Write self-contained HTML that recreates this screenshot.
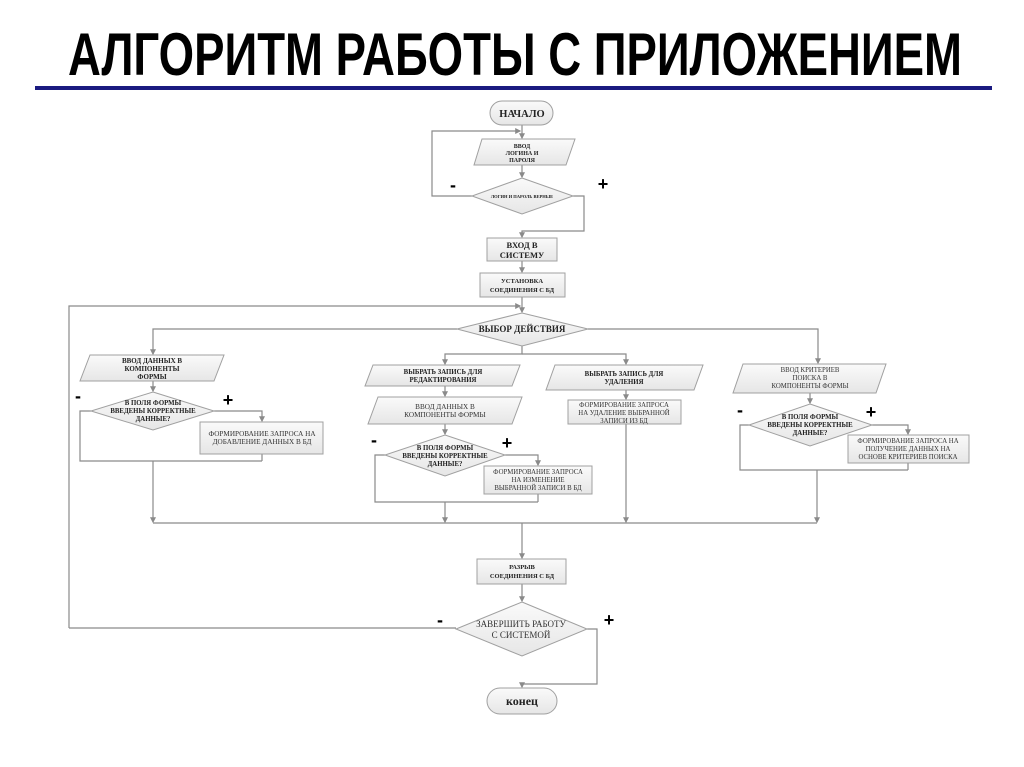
<!DOCTYPE html>
<html><head><meta charset="utf-8"><style>
html,body{margin:0;padding:0;background:#fff;}
svg{display:block;}
.t{font-family:"Liberation Serif",serif;font-weight:bold;fill:#222;text-anchor:middle;}
.n{font-family:"Liberation Serif",serif;fill:#333;text-anchor:middle;}
.s{fill:url(#g);stroke:#a0a0a0;stroke-width:1;}
.l{stroke:#8a8a8a;stroke-width:1.2;fill:none;}
.pm{font-family:"Liberation Sans",sans-serif;font-weight:bold;fill:#000;text-anchor:middle;}
</style></head><body>
<svg width="1024" height="767" viewBox="0 0 1024 767">
<defs>
<linearGradient id="g" x1="0" y1="0" x2="0" y2="1"><stop offset="0" stop-color="#fafafa"/><stop offset="1" stop-color="#e6e6e6"/></linearGradient>
<marker id="a" markerWidth="5" markerHeight="5" refX="4" refY="2.5" orient="auto"><path d="M0,0 L5,2.5 L0,5z" fill="#8a8a8a"/></marker>
</defs>
<text x="515" y="75" font-family="'Liberation Sans Narrow','Liberation Sans',sans-serif" font-weight="bold" font-size="60" text-anchor="middle" textLength="894" lengthAdjust="spacingAndGlyphs">АЛГОРИТМ РАБОТЫ С ПРИЛОЖЕНИЕМ</text>
<rect x="35" y="86" width="957" height="4" fill="#1a1a80"/>

<g class="l">
<path d="M522,125 V138" marker-end="url(#a)"/>
<path d="M472,196 H432 V131 H520" marker-end="url(#a)"/>
<path d="M522,165 V177" marker-end="url(#a)"/>
<path d="M573,196 H584 V231 H522 V237" marker-end="url(#a)"/>
<path d="M522,261 V272" marker-end="url(#a)"/>
<path d="M522,297 V312" marker-end="url(#a)"/>
<path d="M69,628 V306 H520" marker-end="url(#a)"/>
<path d="M457,329 H153 V354" marker-end="url(#a)"/>
<path d="M588,329 H818 V363" marker-end="url(#a)"/>
<path d="M522,346 V354 H445 V364" marker-end="url(#a)"/>
<path d="M522,354 H626 V364" marker-end="url(#a)"/>
<path d="M153,381 V391" marker-end="url(#a)"/>
<path d="M91,411 H80 V461 H262"/>
<path d="M214,411 H262 V421" marker-end="url(#a)"/>
<path d="M262,454 V461"/>
<path d="M153,461 V522" marker-end="url(#a)"/>
<path d="M445,386 V396" marker-end="url(#a)"/>
<path d="M445,424 V434" marker-end="url(#a)"/>
<path d="M385,455 H375 V502 H538"/>
<path d="M505,455 H538 V465" marker-end="url(#a)"/>
<path d="M538,494 V502"/>
<path d="M445,502 V522" marker-end="url(#a)"/>
<path d="M626,390 V399" marker-end="url(#a)"/>
<path d="M626,424 V522" marker-end="url(#a)"/>
<path d="M810,393 V403" marker-end="url(#a)"/>
<path d="M749,425 H740 V470 H908"/>
<path d="M872,425 H908 V434" marker-end="url(#a)"/>
<path d="M908,463 V470"/>
<path d="M817,470 V522" marker-end="url(#a)"/>
<path d="M153,523 H817"/>
<path d="M522,523 V558" marker-end="url(#a)"/>
<path d="M522,584 V601" marker-end="url(#a)"/>
<path d="M456,628 H69"/>
<path d="M587,629 H597 V684 H522 V687" marker-end="url(#a)"/>
</g>

<rect class="s" x="490" y="101" width="63" height="24" rx="12"/>
<text class="t" x="522" y="117" font-size="10.5">НАЧАЛО</text>
<polygon class="s" points="482,139 575,139 566,165 474,165"/>
<text class="t" x="522" y="148" font-size="6">ВВОД</text><text class="t" x="522" y="155" font-size="6">ЛОГИНА И</text><text class="t" x="522" y="162" font-size="6">ПАРОЛЯ</text>
<polygon class="s" points="522,178 573,196 522,214 472,196"/>
<text class="t" x="522" y="198" font-size="4.5">ЛОГИН И ПАРОЛЬ ВЕРНЫЕ</text>
<text class="pm" x="453" y="191" font-size="18">-</text><text class="pm" x="603" y="190" font-size="18">+</text>
<rect class="s" x="487" y="238" width="70" height="23"/>
<text class="t" x="522" y="248" font-size="8.5">ВХОД В</text><text class="t" x="522" y="258" font-size="8.5">СИСТЕМУ</text>
<rect class="s" x="480" y="273" width="85" height="24"/>
<text class="t" x="522" y="283" font-size="6.5">УСТАНОВКА</text><text class="t" x="522" y="292" font-size="6.5">СОЕДИНЕНИЯ С БД</text>
<polygon class="s" points="522,313 588,329 522,346 457,329"/>
<text class="t" x="522" y="332" font-size="9">ВЫБОР ДЕЙСТВИЯ</text>

<polygon class="s" points="90,355 224,355 214,381 80,381"/>
<text class="t" x="152" y="363" font-size="7">ВВОД ДАННЫХ В</text><text class="t" x="152" y="371" font-size="7">КОМПОНЕНТЫ</text><text class="t" x="152" y="379" font-size="7">ФОРМЫ</text>
<polygon class="s" points="153,392 214,411 153,430 91,411"/>
<text class="t" x="153" y="405" font-size="6.8">В ПОЛЯ ФОРМЫ</text><text class="t" x="153" y="413" font-size="6.8">ВВЕДЕНЫ КОРРЕКТНЫЕ</text><text class="t" x="153" y="421" font-size="6.8">ДАННЫЕ?</text>
<text class="pm" x="78" y="402" font-size="18">-</text><text class="pm" x="228" y="406" font-size="18">+</text>
<rect class="s" x="200" y="422" width="123" height="32"/>
<text class="n" x="262" y="436" font-size="7.2">ФОРМИРОВАНИЕ ЗАПРОСА НА</text><text class="n" x="262" y="444" font-size="7.2">ДОБАВЛЕНИЕ ДАННЫХ В БД</text>

<polygon class="s" points="373,365 520,365 512,386 365,386"/>
<text class="t" x="443" y="374" font-size="6.8">ВЫБРАТЬ ЗАПИСЬ ДЛЯ</text><text class="t" x="443" y="382" font-size="6.8">РЕДАКТИРОВАНИЯ</text>
<polygon class="s" points="378,397 522,397 512,424 368,424"/>
<text class="n" x="445" y="409" font-size="7.2">ВВОД ДАННЫХ В</text><text class="n" x="445" y="417" font-size="7.2">КОМПОНЕНТЫ ФОРМЫ</text>
<polygon class="s" points="445,435 505,455 445,476 385,455"/>
<text class="t" x="445" y="450" font-size="6.8">В ПОЛЯ ФОРМЫ</text><text class="t" x="445" y="458" font-size="6.8">ВВЕДЕНЫ КОРРЕКТНЫЕ</text><text class="t" x="445" y="466" font-size="6.8">ДАННЫЕ?</text>
<text class="pm" x="374" y="446" font-size="18">-</text><text class="pm" x="507" y="449" font-size="18">+</text>
<rect class="s" x="484" y="466" width="108" height="28"/>
<text class="n" x="538" y="474" font-size="6.8">ФОРМИРОВАНИЕ ЗАПРОСА</text><text class="n" x="538" y="482" font-size="6.8">НА ИЗМЕНЕНИЕ</text><text class="n" x="538" y="490" font-size="6.8">ВЫБРАННОЙ ЗАПИСИ В БД</text>

<polygon class="s" points="555,365 703,365 694,390 546,390"/>
<text class="t" x="624" y="376" font-size="6.8">ВЫБРАТЬ ЗАПИСЬ ДЛЯ</text><text class="t" x="624" y="384" font-size="6.8">УДАЛЕНИЯ</text>
<rect class="s" x="568" y="400" width="113" height="24"/>
<text class="n" x="624" y="407" font-size="6.8">ФОРМИРОВАНИЕ ЗАПРОСА</text><text class="n" x="624" y="415" font-size="6.8">НА УДАЛЕНИЕ ВЫБРАННОЙ</text><text class="n" x="624" y="423" font-size="6.8">ЗАПИСИ ИЗ БД</text>

<polygon class="s" points="743,364 886,364 876,393 733,393"/>
<text class="n" x="810" y="372" font-size="6.8">ВВОД КРИТЕРИЕВ</text><text class="n" x="810" y="380" font-size="6.8">ПОИСКА В</text><text class="n" x="810" y="388" font-size="6.8">КОМПОНЕНТЫ ФОРМЫ</text>
<polygon class="s" points="810,404 872,425 810,446 749,425"/>
<text class="t" x="810" y="419" font-size="6.8">В ПОЛЯ ФОРМЫ</text><text class="t" x="810" y="427" font-size="6.8">ВВЕДЕНЫ КОРРЕКТНЫЕ</text><text class="t" x="810" y="435" font-size="6.8">ДАННЫЕ?</text>
<text class="pm" x="740" y="416" font-size="18">-</text><text class="pm" x="871" y="418" font-size="18">+</text>
<rect class="s" x="848" y="435" width="121" height="28"/>
<text class="n" x="908" y="443" font-size="6.8">ФОРМИРОВАНИЕ ЗАПРОСА НА</text><text class="n" x="908" y="451" font-size="6.8">ПОЛУЧЕНИЕ ДАННЫХ НА</text><text class="n" x="908" y="459" font-size="6.8">ОСНОВЕ КРИТЕРИЕВ ПОИСКА</text>

<rect class="s" x="477" y="559" width="89" height="25"/>
<text class="t" x="522" y="569" font-size="6.5">РАЗРЫВ</text><text class="t" x="522" y="578" font-size="6.5">СОЕДИНЕНИЯ С БД</text>
<polygon class="s" points="522,602 587,629 522,656 456,629"/>
<text class="n" x="521" y="627" font-size="9">ЗАВЕРШИТЬ РАБОТУ</text><text class="n" x="521" y="638" font-size="9">С СИСТЕМОЙ</text>
<text class="pm" x="440" y="626" font-size="18">-</text><text class="pm" x="609" y="626" font-size="18">+</text>
<rect class="s" x="487" y="688" width="70" height="26" rx="13"/>
<text class="t" x="522" y="705" font-size="12">конец</text>
</svg>
</body></html>
